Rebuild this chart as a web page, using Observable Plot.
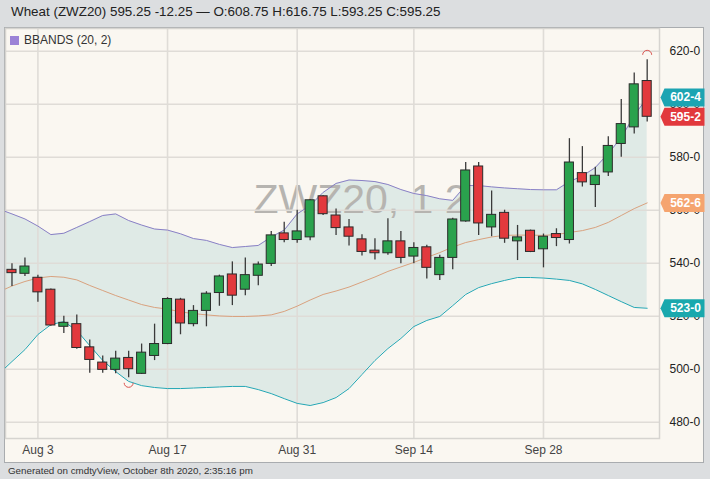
<!DOCTYPE html>
<html><head><meta charset="utf-8">
<script src="https://cdn.jsdelivr.net/npm/d3@7"></script>
<script src="https://cdn.jsdelivr.net/npm/@observablehq/plot@0.6"></script>
<style>
body{margin:0;width:710px;height:479px;background:#dcdee0;position:relative;overflow:hidden;font-family:"Liberation Sans",Arial,sans-serif;}
#header{position:absolute;left:11px;top:4px;font-size:13.4px;line-height:16px;color:#222;white-space:nowrap;}
#panel{position:absolute;left:4px;top:27px;width:698px;height:434px;border:1px solid #a9acaf;background:#faf7f1;}
#panel svg{position:absolute;left:0;top:0;}
#legend{position:absolute;left:5px;top:5px;font-size:12px;color:#333;display:flex;align-items:center;z-index:2;}
#legend span.sw{display:inline-block;width:9px;height:9px;background:#9b82d6;margin-right:5px;}
#footer{position:absolute;left:8px;top:465px;font-size:9.8px;color:#333;white-space:nowrap;}
</style></head>
<body>
<div id="header"></div>
<div id="panel"><div id="legend"><span class="sw"></span><span id="legtext"></span></div></div>
<div id="footer"></div>
<script>
const title = "Wheat (ZWZ20) 595.25 -12.25 \u2014 O:608.75 H:616.75 L:593.25 C:595.25";
const legendLabel = "BBANDS (20, 2)";
const footer = "Generated on cmdtyView, October 8th 2020, 2:35:16 pm";
const watermark = "ZWZ20, 1 2";

// trading days (first day only carries band values)
const dates = ["2020-07-29","2020-07-30","2020-07-31","2020-08-03","2020-08-04","2020-08-05","2020-08-06","2020-08-07",
"2020-08-10","2020-08-11","2020-08-12","2020-08-13","2020-08-14","2020-08-17","2020-08-18","2020-08-19","2020-08-20","2020-08-21",
"2020-08-24","2020-08-25","2020-08-26","2020-08-27","2020-08-28","2020-08-31","2020-09-01","2020-09-02","2020-09-03","2020-09-04",
"2020-09-08","2020-09-09","2020-09-10","2020-09-11","2020-09-14","2020-09-15","2020-09-16","2020-09-17","2020-09-18",
"2020-09-21","2020-09-22","2020-09-23","2020-09-24","2020-09-25","2020-09-28","2020-09-29","2020-09-30","2020-10-01","2020-10-02",
"2020-10-05","2020-10-06","2020-10-07","2020-10-08"];

// OHLC from 2020-07-30
const open  = [537.5,536.0,534.5,530.0,516.0,517.0,508.25,502.5,499.75,504.25,498.25,505.0,509.5,526.25,517.0,522.0,528.75,535.75,530.0,535.25,
539.75,551.25,548.75,549.75,565.25,558.0,553.5,549.0,544.75,543.75,548.25,542.5,546.0,535.5,542.0,555.75,576.5,553.5,559.0,548.25,
552.25,545.25,551.0,548.75,574.0,569.5,574.25,585.0,591.25,608.75];
const high  = [539.75,542.0,535.5,530.25,520.0,520.5,511.0,505.0,506.75,506.75,509.5,517.0,527.0,526.75,524.0,529.25,535.5,540.5,542.0,540.5,
552.0,555.5,560.0,564.0,565.5,560.5,556.5,550.75,549.25,556.75,552.0,547.75,546.75,543.0,557.0,578.0,578.0,567.25,560.0,554.25,
552.5,551.0,553.0,587.0,584.0,576.25,587.75,601.75,611.75,616.75];
const low   = [531.25,535.0,525.25,516.25,513.5,507.5,498.5,498.5,498.25,496.75,498.0,503.25,509.25,513.0,516.0,516.0,523.75,524.0,527.75,531.5,
538.75,547.75,547.5,548.5,558.0,550.5,546.5,542.75,541.25,543.0,539.75,539.75,534.0,533.5,537.5,555.5,550.5,550.0,547.5,541.0,
544.0,538.25,546.25,547.25,568.75,561.0,572.75,580.0,588.75,593.25];
const close = [536.25,538.75,529.0,516.5,517.5,508.0,503.5,499.75,504.0,500.0,506.25,509.5,526.5,517.25,522.0,528.5,535.0,527.75,535.5,539.5,
550.5,548.75,552.0,563.75,558.5,553.25,550.0,544.25,543.75,548.25,542.0,545.75,538.25,542.0,556.5,575.0,555.0,558.25,549.25,549.75,
544.25,550.0,549.5,578.0,570.5,573.0,584.25,592.5,607.5,595.25];

// Bollinger bands (20, 2) from 2020-07-29
const upper = [560.4,558.6,556.7,554.0,550.8,551.3,553.5,555.7,558.0,558.6,556.1,554.4,552.9,552.5,551.1,549.3,548.6,547.1,545.9,546.3,
546.7,549.9,552.5,558.6,561.8,566.7,570.1,571.4,571.2,570.8,569.7,567.8,566.3,565.5,564.3,563.7,569.3,569.3,568.8,568.4,
568.1,567.8,567.7,567.7,570.8,572.9,576.1,581.4,587.4,595.7,602.5];
const middle = [529.2,531.4,533.1,534.4,535.0,534.7,533.7,531.6,529.7,527.8,526.1,524.4,523.3,522.7,521.6,521.0,520.5,520.1,519.9,519.9,
520.1,520.5,521.8,523.8,526.1,528.2,529.5,531.0,532.9,534.8,536.9,538.6,540.3,542.2,544.0,546.1,547.8,548.9,549.9,550.5,
550.6,550.6,550.5,550.8,551.6,552.3,553.5,555.4,558.0,560.6,562.75];
const lower = [498.3,502.9,507.4,513.1,516.8,518.0,514.6,508.9,503.3,499.1,495.4,493.8,493.1,492.7,492.7,492.9,493.1,493.3,493.5,493.5,
492.3,490.8,488.9,487.1,486.3,487.4,489.3,492.7,498.0,503.3,507.8,511.6,516.1,518.4,519.9,524.0,528.2,530.8,532.3,533.5,
534.6,534.6,534.4,534.0,533.5,532.2,530.1,527.8,525.5,523.3,523.0];

const tickDates = ["2020-08-03","2020-08-17","2020-08-31","2020-09-14","2020-09-28"];
const tickLabels = ["Aug 3","Aug 17","Aug 31","Sep 14","Sep 28"];
const yTicks = [480,500,520,540,560,580,600,620];

// styles
const GREEN = "#2aa24d", RED = "#e2393d";
const markerColors = ["#1ca4b2","#e2393d","#f5a46f","#19a8ad"];

document.getElementById("header").textContent = title;
document.getElementById("legtext").textContent = legendLabel;
document.getElementById("footer").textContent = footer;

const N = dates.length;
const xEnd = N - 0.05;
const candles = d3.range(1, N).map(i => ({i, o: open[i-1], h: high[i-1], l: low[i-1], c: close[i-1]}));
const bands = d3.range(N).map(i => ({i, u: upper[i], m: middle[i], lo: lower[i]}));
const tickIdx = tickDates.map(t => dates.indexOf(t));
const fmt8 = v => `${Math.floor(v)}-${Math.round((v - Math.floor(v)) * 8)}`;
const markers = [
  {v: upper[N-1], col: markerColors[0]},
  {v: close[close.length-1], col: markerColors[1]},
  {v: middle[N-1], col: markerColors[2]},
  {v: lower[N-1], col: markerColors[3]}
];
const hiC = candles[d3.maxIndex(candles, d => d.h)];
const loC = candles[d3.minIndex(candles, d => d.l)];

const tagSymbol = {draw(ctx){ ctx.moveTo(0,0); ctx.lineTo(4,-9); ctx.lineTo(44,-9); ctx.lineTo(44,9); ctx.lineTo(4,9); ctx.closePath(); }};
const capTop = {draw(ctx){ ctx.moveTo(-4.5,0); ctx.arc(0,0,4.5,Math.PI,2*Math.PI); }};
const capBot = {draw(ctx){ ctx.moveTo(4.5,0); ctx.arc(0,0,4.5,0,Math.PI); }};

const marks = [
  Plot.areaY(bands, {x: "i", y1: "lo", y2: "u", fill: "#dfeae6", clip: true}),
  Plot.text([watermark], {frameAnchor: "middle", dx: 28, dy: -34, text: d => d, fontSize: 41, fill: "#b6b4b0", fontFamily: "Liberation Sans, Arial, sans-serif"}),
  Plot.ruleY(yTicks, {stroke: "#dfdcd7", strokeWidth: 1.6}),
  Plot.ruleX(tickIdx, {stroke: "#dfdcd7", strokeWidth: 1.6}),
  Plot.frame({stroke: "#d6d4d0", strokeWidth: 1.5}),
  Plot.lineY(bands, {x: "i", y: "u", stroke: "#8a80c6", strokeWidth: 1, clip: true}),
  Plot.lineY(bands, {x: "i", y: "m", stroke: "#d9a27f", strokeWidth: 1, clip: true}),
  Plot.lineY(bands, {x: "i", y: "lo", stroke: "#22a6b4", strokeWidth: 1, clip: true}),
  Plot.ruleX(candles, {x: "i", y1: "l", y2: "h", stroke: "#3a3a3a", strokeWidth: 1.3}),
  Plot.rect(candles.filter(d => d.c >= d.o), {x1: d => d.i - 0.35, x2: d => d.i + 0.35, y1: "o", y2: "c", fill: GREEN, stroke: "#2b2b2b", strokeWidth: 1}),
  Plot.rect(candles.filter(d => d.c < d.o), {x1: d => d.i - 0.35, x2: d => d.i + 0.35, y1: "o", y2: "c", fill: RED, stroke: "#2b2b2b", strokeWidth: 1}),
  Plot.dot([hiC], {x: "i", y: "h", dy: -5, symbol: capTop, fill: "none", stroke: "#d9534f", strokeWidth: 1}),
  Plot.dot([loC], {x: "i", y: "l", dy: 5, symbol: capBot, fill: "none", stroke: "#d9534f", strokeWidth: 1}),
  Plot.text(tickIdx, {x: d => d, frameAnchor: "bottom", dy: 15, text: (d, i) => tickLabels[i], fontSize: 12, fill: "#444"}),
  Plot.text(yTicks, {x: () => xEnd, y: d => d, dx: 10, textAnchor: "start", text: d => `${d}-0`, fontSize: 12, fill: "#222"})
];
for (const m of markers) {
  marks.push(Plot.dot([m], {x: () => xEnd, y: "v", dx: 1, symbol: tagSymbol, fill: m.col, stroke: "none"}));
  marks.push(Plot.text([m], {x: () => xEnd, y: "v", dx: 26, text: d => fmt8(d.v), fill: "white", fontWeight: "bold", fontSize: 12}));
}

const chart = Plot.plot({
  width: 698, height: 434,
  marginLeft: 0, marginRight: 44, marginTop: 0, marginBottom: 24,
  style: {background: "transparent", fontFamily: "Liberation Sans, Arial, sans-serif", overflow: "visible"},
  x: {domain: [0.5, xEnd], axis: null},
  y: {domain: [473.85, 628.57], axis: null},
  marks
});
document.getElementById("panel").appendChild(chart);
</script>
</body></html>
